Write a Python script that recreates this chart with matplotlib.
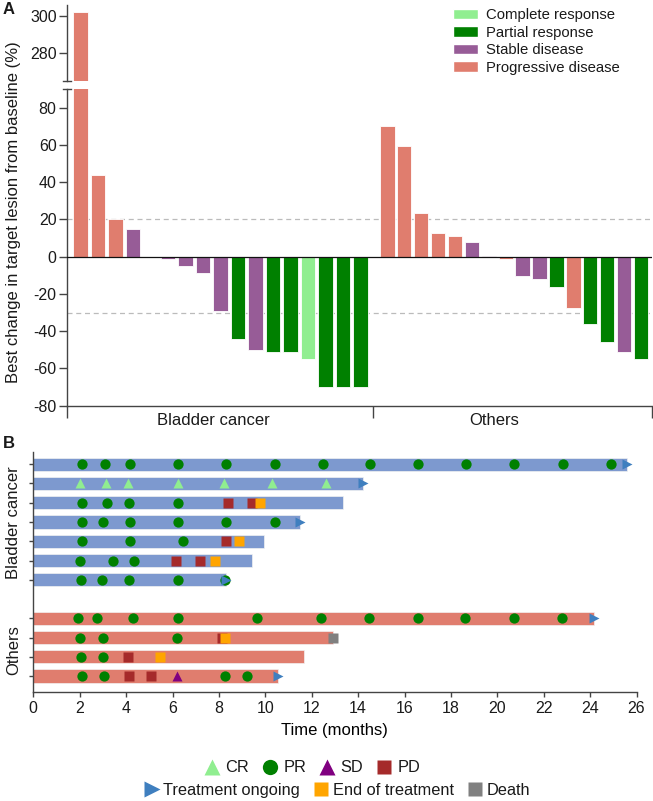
import numpy as np
import matplotlib
matplotlib.use('Agg')
import matplotlib.pyplot as plt
from matplotlib.patches import Patch
from matplotlib.lines import Line2D

plt.rcParams['font.family'] = ['Liberation Sans', 'DejaVu Sans']
plt.rcParams['axes.unicode_minus'] = False
plt.rcParams['text.color'] = '#1a1a1a'
plt.rcParams['xtick.color'] = '#444444'
plt.rcParams['ytick.color'] = '#444444'
plt.rcParams['xtick.labelcolor'] = '#1a1a1a'
plt.rcParams['ytick.labelcolor'] = '#1a1a1a'

# ---- panel A data: best change from baseline (%) ----
bladder_change = [302, 44, 20, 15, 0, -1, -5, -9, -29, -44, -50, -51, -51, -55, -70, -70, -70]
bladder_resp = ['PD', 'PD', 'PD', 'SD', 'SD', 'SD', 'SD', 'SD', 'SD', 'PR', 'SD', 'PR', 'PR', 'CR',
                'PR', 'PR', 'PR']
others_change = [70, 59.5, 23.5, 12.5, 11, 8, 0.5, -1, -10.5, -12, -16.5, -27.5, -36, -46, -51, -55]
others_resp = ['PD', 'PD', 'PD', 'PD', 'PD', 'SD', 'SD', 'PD', 'SD', 'SD', 'PR', 'PD', 'PR', 'PR',
               'SD', 'PR']
group_names = ['Bladder cancer', 'Others']

resp_colors = {'CR': '#90EE90', 'PR': '#008000', 'SD': '#975C97', 'PD': '#E07D6E'}
resp_names = {'CR': 'Complete response', 'PR': 'Partial response',
              'SD': 'Stable disease', 'PD': 'Progressive disease'}

# ---- panel B data: swimmer plot ----
swim_group = ['Bladder cancer'] * 7 + ['Others'] * 4
swim_duration = [25.6, 14.22, 13.33, 11.5, 9.94, 9.43, 8.3, 24.15, 12.93, 11.65, 10.56]
swim_ongoing = [True, True, False, True, False, False, True, True, False, False, True]
swim_cr = [[], [2.01, 3.13, 4.1, 6.25, 8.23, 10.27, 12.6], [], [], [], [], [], [], [], [], []]
swim_pr = [[2.09, 3.09, 4.17, 6.25, 8.32, 10.4, 12.47, 14.5, 16.6, 18.66, 20.73, 22.84, 24.91],
           [],
           [2.09, 3.18, 4.11, 6.22],
           [2.09, 3.02, 4.17, 6.25, 8.29, 10.43],
           [2.09, 4.17, 6.47],
           [2.03, 3.42, 4.33],
           [2.07, 2.97, 4.14, 6.25, 8.28],
           [1.93, 2.73, 4.28, 6.25, 9.64, 12.41, 14.48, 16.58, 18.62, 20.7, 22.79],
           [2.03, 3.02, 6.21],
           [2.06, 2.99],
           [2.1, 3.05, 8.28, 9.2]]
swim_sd = [[], [], [], [], [], [], [], [], [], [], [6.21]]
swim_pd = [[], [], [8.38, 9.41], [], [8.29], [6.15, 7.17], [], [], [8.15], [4.08], [4.12, 5.07]]
swim_eot = [[], [], [9.76], [], [8.85], [7.83], [], [], [8.27], [5.46], []]
swim_death = [[], [], [], [], [], [], [], [], [12.9], [], []]

W, H = 653, 801
fig = plt.figure(figsize=(W / 100, H / 100), dpi=100)

# ================= panel A =================
ax_top = fig.add_axes([67 / W, 1 - 81 / H, 585 / W, 76 / H])
ax_bot = fig.add_axes([67 / W, 1 - 405.7 / H, 585 / W, 316.7 / H])

xs = np.concatenate([np.arange(len(bladder_change)),
                     17.54 + np.arange(len(others_change)) * 0.966])
vals = bladder_change + others_change
cols = [resp_colors[r] for r in bladder_resp + others_resp]
x_left, x_sep, x_right = -0.77, 16.71, 32.66

for ax in (ax_top, ax_bot):
    ax.bar(xs, vals, width=0.82, color=cols, edgecolor='white', linewidth=0.6, zorder=2)
    ax.set_xlim(x_left, x_right)
    ax.spines['top'].set_visible(False)
    ax.spines['right'].set_visible(False)
    for s in ax.spines.values():
        s.set_color('#444444')
        s.set_linewidth(1)
    ax.tick_params(axis='y', length=5.5, width=1, labelsize=11.5, pad=2)

ax_top.set_ylim(265, 306)
ax_top.set_yticks([280, 300])
ax_top.spines['bottom'].set_visible(False)
ax_top.set_xticks([])

ax_bot.set_ylim(-80, 90)
ax_bot.set_yticks(range(-80, 81, 20))
ax_bot.axhline(20, color='#BBBBBB', ls=(0, (4, 3)), lw=0.9, zorder=1)
ax_bot.axhline(-30, color='#BBBBBB', ls=(0, (4, 3)), lw=0.9, zorder=1)
ax_bot.axhline(0, color='#111111', lw=0.9, zorder=3)
ax_bot.set_xticks([x_left, x_sep, x_right])
ax_bot.set_xticklabels([])
ax_bot.set_xticks([7.57, 23.63], minor=True)
ax_bot.set_xticklabels(group_names, minor=True)
ax_bot.tick_params(axis='x', which='major', length=8.6, width=1)
ax_bot.tick_params(axis='x', which='minor', length=0, pad=5, labelsize=12)

# axis break marks
for ypx in (81, 89):
    fig.add_artist(Line2D([63 / W, 71 / W], [1 - ypx / H] * 2, color='#444444', lw=1))

fig.text(14 / W, 1 - 212 / H, 'Best change in target lesion from baseline (%)',
         rotation=90, ha='center', va='center', fontsize=12)

handles = [Patch(facecolor=resp_colors[k], edgecolor='white', label=resp_names[k])
           for k in ['CR', 'PR', 'SD', 'PD']]
fig.legend(handles=handles, loc='upper left', bbox_to_anchor=(453 / W, 1 - 8 / H),
           frameon=False, fontsize=10.7, handlelength=1.7, handleheight=0.7,
           handletextpad=0.5, labelspacing=0.24, borderpad=0, borderaxespad=0)

# ================= panel B =================
ax_b = fig.add_axes([33.3 / W, 1 - 691.7 / H, (636.5 - 33.3) / W, 240 / H])
rows = []
pos = 0
for i, g in enumerate(swim_group):
    if i > 0 and g != swim_group[i - 1]:
        pos += 1
    rows.append(pos)
    pos += 1

bar_colors = {'Bladder cancer': '#7D99CF', 'Others': '#E07D6E'}
ax_b.barh(rows, swim_duration, height=0.69, color=[bar_colors[g] for g in swim_group],
          edgecolor='#F2F2F2', linewidth=0.5, zorder=1)

ms = 7.4
for i, y in enumerate(rows):
    ax_b.plot(swim_pr[i], [y] * len(swim_pr[i]), 'o', color='#008000', ms=ms, mec='none', zorder=3)
    ax_b.plot(swim_cr[i], [y] * len(swim_cr[i]), '^', color='#90EE90', ms=ms + 0.5, mec='none', zorder=3)
    ax_b.plot(swim_sd[i], [y] * len(swim_sd[i]), '^', color='#800080', ms=ms + 0.5, mec='none', zorder=3)
    ax_b.plot(swim_pd[i], [y] * len(swim_pd[i]), 's', color='#A52A2A', ms=ms - 0.4, mec='none', zorder=3)
    ax_b.plot(swim_eot[i], [y] * len(swim_eot[i]), 's', color='#FFA500', ms=ms - 0.4, mec='none', zorder=4)
    ax_b.plot(swim_death[i], [y] * len(swim_death[i]), 's', color='#808080', ms=ms - 0.4, mec='none', zorder=4)
    if swim_ongoing[i]:
        ax_b.plot([swim_duration[i]], [y], '>', color='#3F7FBF', ms=ms + 0.5, mec='none', zorder=5)

ax_b.set_xlim(0, 26)
ax_b.set_ylim(11.81, -0.65)
ax_b.set_xticks(range(0, 27, 2))
ax_b.set_yticks(rows)
ax_b.set_yticklabels([])
ax_b.tick_params(axis='x', length=3.5, width=1, labelsize=11.5, pad=3)
ax_b.tick_params(axis='y', length=3, width=1)
ax_b.spines['top'].set_visible(False)
ax_b.spines['right'].set_visible(False)
for s in ax_b.spines.values():
    s.set_color('#444444')
    s.set_linewidth(1)
ax_b.set_xlabel('Time (months)', fontsize=12, labelpad=5)

fig.text(14 / W, 1 - 522.5 / H, 'Bladder cancer', rotation=90, ha='center', va='center', fontsize=12)
fig.text(14 / W, 1 - 650 / H, 'Others', rotation=90, ha='center', va='center', fontsize=12)

# legends at the bottom
lm = 11
h1 = [Line2D([], [], ls='none', marker='^', color='#90EE90', ms=lm, mec='none'),
      Line2D([], [], ls='none', marker='o', color='#008000', ms=lm, mec='none'),
      Line2D([], [], ls='none', marker='^', color='#800080', ms=lm, mec='none'),
      Line2D([], [], ls='none', marker='s', color='#A52A2A', ms=lm - 1, mec='none')]
fig.legend(handles=h1, labels=['CR', 'PR', 'SD', 'PD'], loc='center',
           bbox_to_anchor=(312 / W, 1 - 768 / H), ncol=4, frameon=False, fontsize=11.8,
           handlelength=1.0, handletextpad=0.3, columnspacing=0.8, borderpad=0, borderaxespad=0)
h2 = [Line2D([], [], ls='none', marker='>', color='#3F7FBF', ms=lm, mec='none'),
      Line2D([], [], ls='none', marker='s', color='#FFA500', ms=lm - 1, mec='none'),
      Line2D([], [], ls='none', marker='s', color='#808080', ms=lm - 1, mec='none')]
fig.legend(handles=h2, labels=['Treatment ongoing', 'End of treatment', 'Death'], loc='center',
           bbox_to_anchor=(337 / W, 1 - 790.5 / H), ncol=3, frameon=False, fontsize=11.8,
           handlelength=1.0, handletextpad=0.2, columnspacing=0.8, borderpad=0, borderaxespad=0)

fig.text(3 / W, 1 - 2 / H, 'A', fontsize=12, fontweight='bold', ha='left', va='top')
fig.text(3 / W, 1 - 436 / H, 'B', fontsize=12, fontweight='bold', ha='left', va='top')

fig.savefig('out.png', dpi=100)
